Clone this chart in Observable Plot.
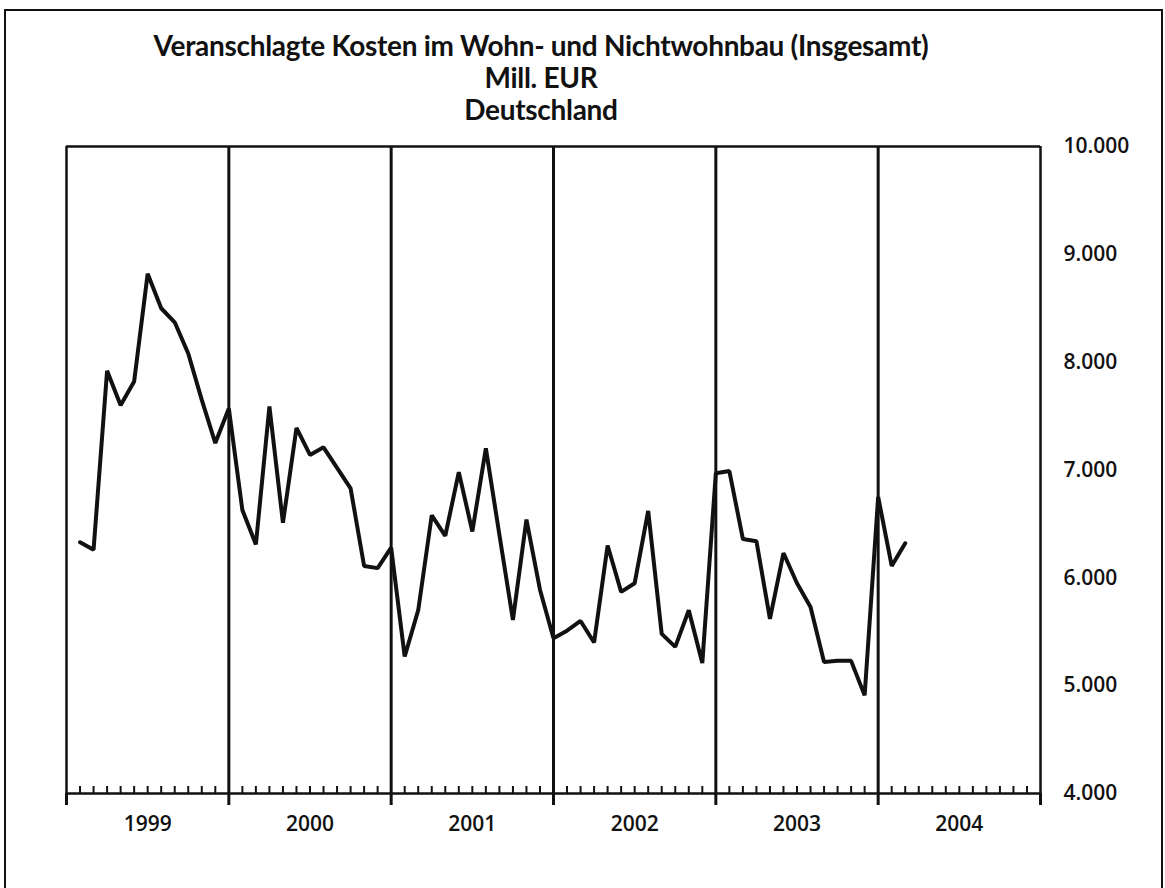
<!DOCTYPE html>
<html>
<head>
<meta charset="utf-8">
<script src="https://cdn.jsdelivr.net/npm/d3@7"></script>
<script src="https://cdn.jsdelivr.net/npm/@observablehq/plot@0.6"></script>
<style>
  body { margin: 0; background: #fff; }
  #wrap { position: relative; width: 1165px; height: 888px; overflow: hidden; background: #fff; }
  #border { position: absolute; left: 4px; top: 9px; width: 1155px; height: 900px; border: 2px solid #111; border-bottom: none; }
  #title { position: absolute; left: 0; top: 29px; width: 1082px; text-align: center; font-family: Lato, "Open Sans", sans-serif; font-weight: 700; font-size: 28px; line-height: 32px; color: #111; letter-spacing: -0.3px; }
  #chart { position: absolute; left: 0; top: 130px; }
  #chart text { font-weight: 600; }
</style>
</head>
<body>
<div id="wrap">
  <div id="border"></div>
  <div id="title">Veranschlagte Kosten im Wohn- und Nichtwohnbau (Insgesamt)<br>Mill. EUR<br>Deutschland</div>
  <div id="chart"></div>
</div>
<script>
// ---- data (Mill. EUR, monthly) ----
const years = [1999, 2000, 2001, 2002, 2003, 2004];
const v1999 = [6330, 6260, 7920, 7600, 7820, 8820, 8500, 8370, 8080, 7650, 7250, 7570];
const v2000 = [6630, 6310, 7590, 6510, 7390, 7140, 7210, 7020, 6830, 6110, 6090, 6280];
const v2001 = [5270, 5700, 6580, 6390, 6980, 6430, 7200, 6400, 5610, 6540, 5890, 5440];
const v2002 = [5510, 5600, 5400, 6300, 5870, 5950, 6620, 5480, 5360, 5700, 5210, 6970];
const v2003 = [6990, 6360, 6340, 5620, 6230, 5950, 5730, 5220, 5230, 5230, 4910, 6750];
const v2004 = [6110, 6320];
const yTicks = [4000, 5000, 6000, 7000, 8000, 9000, 10000];

const series = [v1999, v2000, v2001, v2002, v2003, v2004];
const data = [];
series.forEach((arr, yi) => arr.forEach((v, m) => data.push({idx: yi * 12 + m + 1, value: v})));

const monthIdx = d3.range(1, years.length * 12).filter(i => i % 12 !== 0);
const yearBounds = d3.range(0, years.length + 1).map(i => i * 12);
const innerBounds = yearBounds.slice(1, -1);
const yearMids = years.map((y, i) => i * 12 + 6);

const de = d3.formatLocale({decimal: ",", thousands: ".", grouping: [3], currency: ["", " €"]});
const fmt = de.format(",");

const chart = Plot.plot({
  width: 1165,
  height: 758,
  marginTop: 16,
  marginBottom: 95,
  marginLeft: 66,
  marginRight: 125,
  style: {fontFamily: "'Open Sans', Lato, sans-serif", fontSize: "21px", color: "#111", background: "transparent"},
  x: {domain: [0, years.length * 12], axis: null},
  y: {domain: [4000, 10000], axis: null},
  marks: [
    // year separators
    Plot.ruleX(innerBounds, {y1: 4000, y2: 10000, stroke: "#111", strokeWidth: 3}),
    // frame
    Plot.ruleX([0, years.length * 12], {y1: 4000, y2: 10000, stroke: "#111", strokeWidth: 2.5}),
    Plot.ruleY([10000], {stroke: "#111", strokeWidth: 2.5}),
    Plot.ruleY([4000], {stroke: "#111", strokeWidth: 2.5}),
    // monthly minor ticks (inside, above baseline)
    Plot.ruleX(monthIdx, {y1: 4000, y2: 4065, stroke: "#111", strokeWidth: 2}),
    // year boundary ticks below axis
    Plot.axisX({ticks: yearBounds, tickSize: 12, tickFormat: () => "", stroke: "#111", strokeWidth: 3, label: null}),
    // year labels
    Plot.axisX({ticks: yearMids, tickSize: 0, tickPadding: 23, tickFormat: d => String(years[(d - 6) / 12]), label: null, fontSize: 21}),
    // right value axis
    Plot.axisY({anchor: "right", ticks: yTicks, tickSize: 0, tickPadding: 23, tickFormat: fmt, label: null, fontSize: 21}),
    // data line
    Plot.line(data, {x: "idx", y: "value", stroke: "#111", strokeWidth: 4, strokeLinejoin: "miter"})
  ]
});
document.getElementById("chart").appendChild(chart);
</script>
</body>
</html>
